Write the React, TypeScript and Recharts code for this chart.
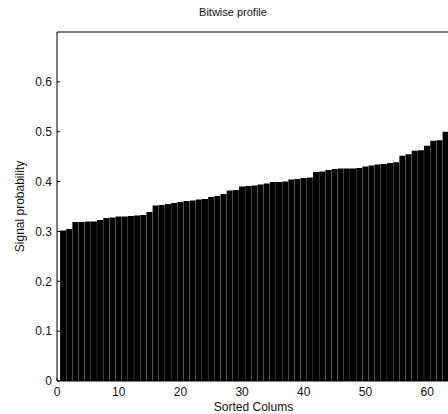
import { BarChart, Bar, XAxis, YAxis, Label } from 'recharts';

const columns: number[] = Array.from({ length: 64 }, (_, i) => i + 1);

const probability: number[] = [
  0.302, 0.305, 0.319, 0.319, 0.320, 0.320, 0.323, 0.327, 0.328, 0.330,
  0.330, 0.331, 0.332, 0.333, 0.339, 0.352, 0.353, 0.355, 0.357, 0.359,
  0.361, 0.362, 0.364, 0.365, 0.369, 0.371, 0.375, 0.382, 0.383, 0.390,
  0.391, 0.392, 0.394, 0.396, 0.399, 0.399, 0.400, 0.404, 0.405, 0.407,
  0.408, 0.419, 0.420, 0.423, 0.425, 0.426, 0.426, 0.426, 0.427, 0.430,
  0.432, 0.434, 0.435, 0.437, 0.439, 0.452, 0.455, 0.462, 0.463, 0.472,
  0.482, 0.483, 0.500, 0.510,
];

const xTicks: number[] = [0, 10, 20, 30, 40, 50, 60];
const yTicks: number[] = [0, 0.1, 0.2, 0.3, 0.4, 0.5, 0.6];

const data = columns.map((col, i) => ({ col, p: probability[i] }));

const font = '"Liberation Sans", Arial, sans-serif';
const tickStyle = { fontSize: 12, fill: '#111', fontFamily: font };

export default function App() {
  return (
    <div
      style={{
        position: 'fixed',
        left: 0,
        top: 0,
        width: 448,
        height: 414,
        overflow: 'hidden',
        background: '#fff',
      }}
    >
      <div
        style={{
          position: 'absolute',
          left: 183,
          width: 100,
          top: 6,
          textAlign: 'center',
          fontFamily: font,
          fontSize: 11,
          color: '#111',
        }}
      >
        Bitwise profile
      </div>
      <BarChart
        width={480}
        height={414}
        data={data}
        margin={{ top: 31, right: 21, bottom: 0, left: 0 }}
        barCategoryGap={0}
        barGap={0}
      >
        <XAxis
          dataKey="col"
          type="number"
          domain={[0, 65]}
          ticks={xTicks}
          allowDataOverflow
          height={33}
          tickSize={-3}
          tickMargin={9}
          tick={tickStyle}
          stroke="#000"
        >
          <Label
            value="Sorted Colums"
            position="insideBottom"
            offset={3}
            dx={-4}
            style={{ fontSize: 12, fill: '#111', fontFamily: font }}
          />
        </XAxis>
        <XAxis
          xAxisId="top"
          orientation="top"
          type="number"
          domain={[0, 65]}
          ticks={xTicks}
          allowDataOverflow
          height={1}
          tickSize={-3}
          tick={false}
          stroke="#000"
        />
        <YAxis
          type="number"
          domain={[0, 0.7]}
          ticks={yTicks}
          allowDataOverflow
          width={57}
          tickSize={-3}
          tickMargin={8}
          tick={tickStyle}
          stroke="#000"
        >
          <Label
            value="Signal probability"
            angle={-90}
            position="insideLeft"
            offset={20}
            style={{ fontSize: 12, fill: '#111', fontFamily: font, textAnchor: 'middle' }}
          />
        </YAxis>
        <YAxis
          yAxisId="right"
          orientation="right"
          type="number"
          domain={[0, 0.7]}
          ticks={yTicks}
          width={1}
          tickSize={-3}
          tick={false}
          stroke="#000"
        />
        <Bar dataKey="p" fill="#000" isAnimationActive={false} />
      </BarChart>
    </div>
  );
}
